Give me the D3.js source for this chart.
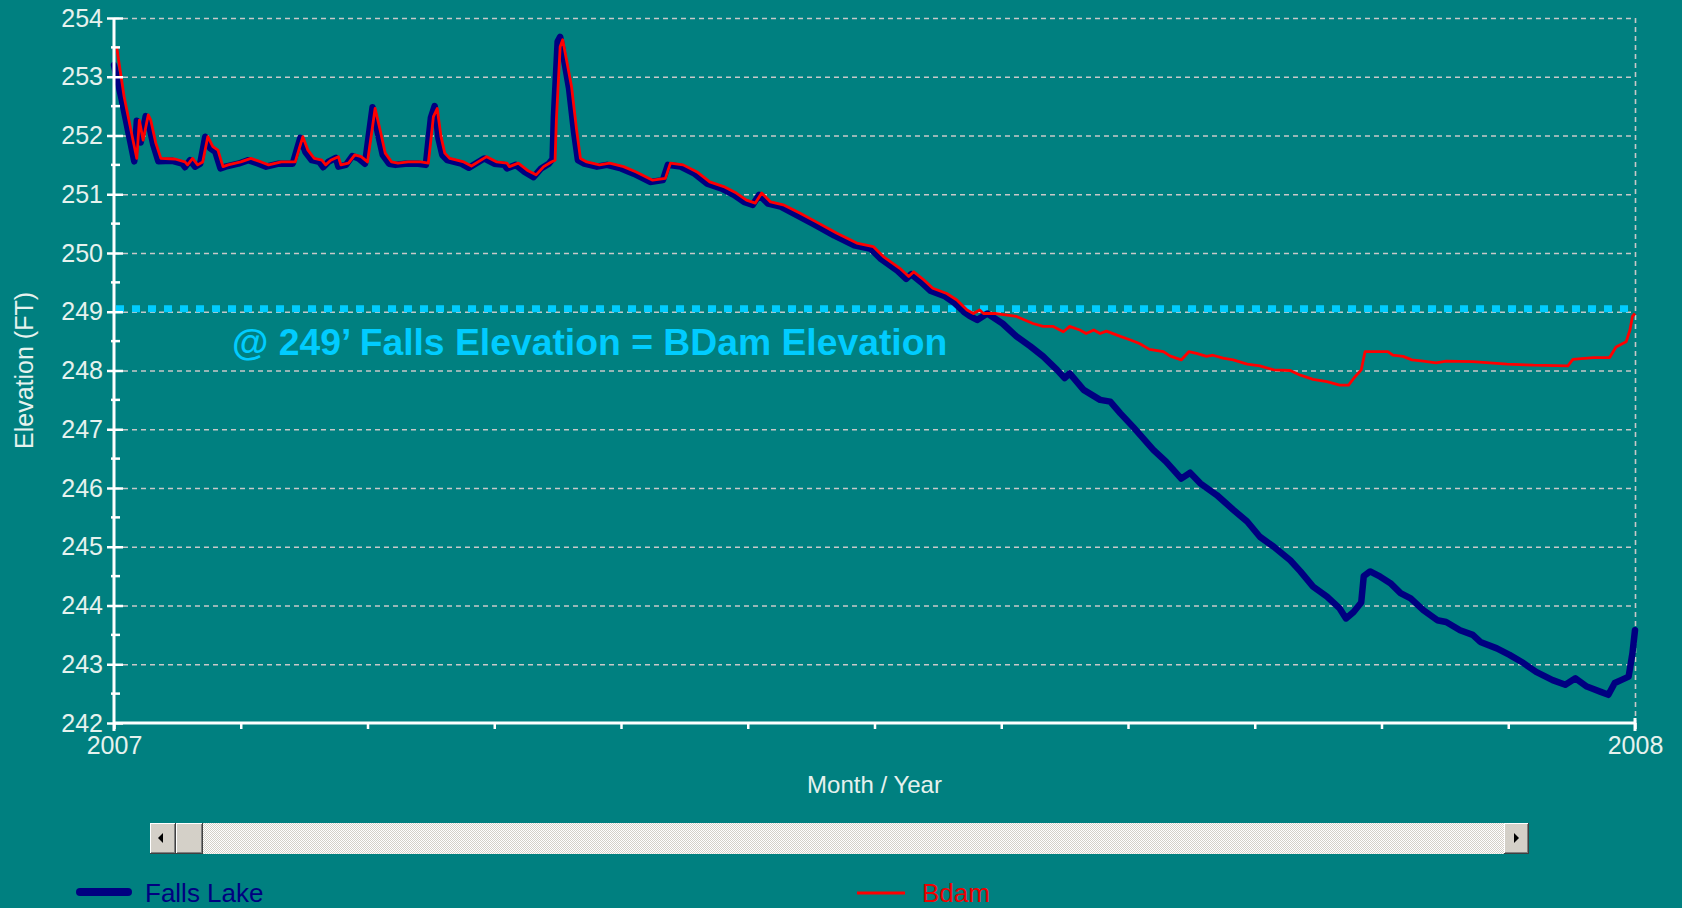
<!DOCTYPE html>
<html>
<head>
<meta charset="utf-8">
<script src="https://cdn.jsdelivr.net/npm/d3@7"></script>
<style>
  html, body { margin: 0; padding: 0; background: #008080; overflow: hidden; }
  svg { display: block; font-family: "Liberation Sans", Arial, sans-serif; }
</style>
</head>
<body>
<div class="container"></div>
<script>
var w = 1682;
var h = 908;

// months since Jan 2007 (0 = 2007, 12 = 2008)
var bdamMonth = [0.02,0.08,0.15,0.18,0.20,0.23,0.27,0.29,0.33,0.37,0.48,0.56,0.58,0.62,0.66,0.70,0.74,0.78,0.82,0.86,0.90,
  1.00,1.08,1.16,1.22,1.32,1.43,1.49,1.53,1.58,1.64,1.67,1.71,1.77,1.79,1.85,1.90,1.95,2.00,2.06,2.10,2.14,2.19,2.24,2.32,
  2.42,2.48,2.52,2.55,2.58,2.61,2.65,2.76,2.82,2.94,3.02,3.10,3.12,3.19,3.26,3.33,3.39,3.45,3.48,3.49,3.52,3.54,3.57,3.61,
  3.65,3.68,3.73,3.83,3.91,4.02,4.12,4.25,4.35,4.39,4.49,4.60,4.70,4.81,4.91,4.99,5.06,5.11,5.18,5.28,5.41,5.54,5.70,5.86,
  5.99,6.07,6.20,6.27,6.31,6.39,6.46,6.57,6.65,6.73,6.78,6.83,6.86,6.96,7.12,7.25,7.33,7.41,7.49,7.54,7.62,7.67,7.73,7.78,
  7.83,7.94,8.02,8.09,8.17,8.28,8.33,8.42,8.48,8.54,8.62,8.67,8.75,8.83,8.94,9.04,9.15,9.28,9.36,9.46,9.57,9.67,9.74,9.79,
  9.84,9.87,10.05,10.09,10.17,10.24,10.33,10.43,10.51,10.72,10.99,11.20,11.47,11.51,11.67,11.80,11.85,11.93,11.96,11.98,12.00];
var bdamElev = [253.52,252.66,251.92,251.61,252.26,251.92,252.35,252.26,251.87,251.61,251.60,251.55,251.50,251.61,251.50,251.55,251.98,251.81,251.75,251.47,251.50,
  251.55,251.61,251.55,251.50,251.55,251.55,251.98,251.75,251.61,251.58,251.50,251.58,251.64,251.50,251.53,251.67,251.64,251.55,252.46,252.09,251.70,251.55,251.53,251.55,
  251.55,251.53,252.32,252.46,251.98,251.70,251.61,251.55,251.48,251.64,251.55,251.53,251.47,251.53,251.41,251.33,251.47,251.55,251.58,252.26,253.51,253.63,253.29,252.83,
  252.09,251.61,251.55,251.50,251.53,251.47,251.38,251.24,251.27,251.53,251.50,251.38,251.21,251.13,251.02,250.90,250.85,251.02,250.87,250.82,250.68,250.53,250.34,250.17,
  250.11,249.94,249.74,249.60,249.68,249.54,249.40,249.31,249.20,249.03,248.97,249.03,248.97,248.97,248.92,248.80,248.75,248.75,248.66,248.75,248.69,248.63,248.69,248.63,
  248.67,248.58,248.52,248.46,248.36,248.32,248.25,248.18,248.32,248.29,248.24,248.26,248.21,248.18,248.11,248.08,248.01,248.00,247.92,247.85,247.81,247.75,247.75,247.89,
  248.01,248.32,248.32,248.26,248.24,248.18,248.16,248.13,248.16,248.15,248.11,248.09,248.08,248.19,248.22,248.22,248.40,248.49,248.69,248.92,248.97];

var fallsMonth = [0.00,0.06,0.13,0.16,0.18,0.21,0.25,0.27,0.31,0.35,0.46,0.54,0.56,0.60,0.64,0.68,0.72,0.76,0.80,0.84,0.88,
  0.98,1.06,1.14,1.20,1.30,1.41,1.47,1.51,1.56,1.62,1.65,1.69,1.75,1.77,1.83,1.88,1.93,1.98,2.04,2.08,2.12,2.17,2.22,2.30,
  2.40,2.46,2.50,2.53,2.56,2.59,2.63,2.74,2.80,2.92,3.00,3.08,3.10,3.17,3.24,3.31,3.37,3.43,3.46,3.47,3.50,3.52,3.55,3.59,
  3.63,3.66,3.71,3.81,3.89,4.00,4.10,4.23,4.33,4.37,4.47,4.58,4.68,4.79,4.89,4.97,5.04,5.09,5.16,5.26,5.39,5.52,5.68,5.84,
  5.97,6.05,6.18,6.25,6.29,6.37,6.44,6.55,6.63,6.71,6.75,6.81,6.89,7.01,7.12,7.23,7.33,7.44,7.50,7.54,7.65,7.78,7.86,7.94,
  8.04,8.20,8.30,8.42,8.49,8.57,8.70,8.83,8.94,9.04,9.15,9.28,9.36,9.46,9.57,9.67,9.72,9.78,9.84,9.86,9.91,9.99,10.07,10.15,
  10.23,10.33,10.44,10.51,10.62,10.72,10.78,10.91,11.01,11.12,11.22,11.35,11.45,11.53,11.62,11.73,11.79,11.84,11.89,11.95,11.98,12.00];
var fallsElev = [253.20,252.62,251.88,251.56,252.25,251.88,252.33,252.24,251.84,251.56,251.57,251.52,251.46,251.58,251.47,251.52,251.98,251.78,251.72,251.44,251.47,
  251.52,251.58,251.52,251.47,251.52,251.52,251.96,251.72,251.58,251.55,251.46,251.55,251.62,251.47,251.50,251.65,251.61,251.52,252.48,252.06,251.67,251.52,251.50,251.52,
  251.52,251.50,252.30,252.50,251.95,251.67,251.58,251.52,251.45,251.61,251.52,251.50,251.44,251.50,251.38,251.29,251.44,251.52,251.60,252.30,253.60,253.68,253.30,252.80,
  252.05,251.58,251.52,251.47,251.50,251.44,251.35,251.21,251.24,251.50,251.47,251.35,251.18,251.10,250.99,250.87,250.82,250.99,250.84,250.79,250.64,250.49,250.30,250.13,
  250.07,249.90,249.70,249.56,249.64,249.50,249.36,249.27,249.15,248.99,248.93,248.86,248.97,248.80,248.58,248.41,248.24,248.01,247.87,247.95,247.67,247.50,247.47,247.27,
  247.04,246.65,246.45,246.16,246.26,246.08,245.88,245.63,245.43,245.17,245.00,244.77,244.58,244.32,244.15,243.95,243.78,243.89,244.05,244.50,244.58,244.49,244.38,244.21,
  244.12,243.92,243.75,243.72,243.58,243.50,243.38,243.27,243.16,243.02,242.87,242.73,242.65,242.76,242.62,242.53,242.48,242.68,242.73,242.79,243.19,243.58];

var yTickValues = [242,243,244,245,246,247,248,249,250,251,252,253,254];
var yMinorValues = [242.5,243.5,244.5,245.5,246.5,247.5,248.5,249.5,250.5,251.5,252.5,253.5];
var xTickValues = [0,1,2,3,4,5,6,7,8,9,10,11,12];
var xTickLabels = ["2007","","","","","","","","","","","","2008"];
var thresholdLevel = 249.05;
var noteText = "@ 249\u2019 Falls Elevation = BDam Elevation";

var x = d3.scaleLinear().domain([0, 12]).range([114, 1635]);
var y = d3.scaleLinear().domain([242, 254]).range([723, 18]);

var svg = d3.select(".container").append("svg").attr("width", w).attr("height", h);

svg.append("rect").attr("width", w).attr("height", h).attr("fill", "#008080");

// dashed grid
svg.append("g").selectAll("line")
  .data(yTickValues.slice(1))
  .enter().append("line")
  .attr("x1", x(0)).attr("x2", x(12))
  .attr("y1", d => y(d) + 0.5).attr("y2", d => y(d) + 0.5)
  .attr("stroke", "#c8c8c8").attr("stroke-width", 1.6)
  .attr("stroke-dasharray", "5,4");

svg.append("line")
  .attr("x1", x(12) + 0.5).attr("x2", x(12) + 0.5)
  .attr("y1", y(254)).attr("y2", y(242))
  .attr("stroke", "#c8c8c8").attr("stroke-width", 1.6)
  .attr("stroke-dasharray", "5,4");

// 249 ft reference line
svg.append("line")
  .attr("x1", x(0) + 2).attr("x2", x(12))
  .attr("y1", y(thresholdLevel)).attr("y2", y(thresholdLevel))
  .attr("stroke", "#00ccff").attr("stroke-width", 7)
  .attr("stroke-dasharray", "8,8");

svg.append("text")
  .attr("x", 232).attr("y", 355)
  .attr("fill", "#00ccff")
  .style("font-size", "37.3px").style("font-weight", "bold")
  .text(noteText);

// series
var line = d3.line().x(d => x(d[0])).y(d => y(d[1]));
var falls = d3.zip(fallsMonth, fallsElev);
var bdam = d3.zip(bdamMonth, bdamElev);

svg.append("path").datum(falls)
  .attr("d", line)
  .attr("fill", "none").attr("stroke", "#000080")
  .attr("stroke-width", 6.5).attr("stroke-linejoin", "round").attr("stroke-linecap", "round");

svg.append("path").datum(bdam)
  .attr("d", line)
  .attr("fill", "none").attr("stroke", "#ff0000")
  .attr("stroke-width", 2.8).attr("stroke-linejoin", "round");

// axes
var yAxis = svg.append("g")
  .attr("transform", "translate(" + x(0) + ",0)")
  .call(d3.axisLeft(y).tickValues(yTickValues).tickSize(7).tickPadding(4).tickFormat(d3.format("d")));
yAxis.select(".domain").remove();
yAxis.selectAll(".tick line").attr("x2", 9).attr("x1", -7).attr("stroke", "#ffffff").attr("stroke-width", 2.5);
yAxis.selectAll(".tick text").attr("fill", "#e6f2ee").style("font-size", "25px").style("font-family", "Liberation Sans, Arial, sans-serif");

svg.append("g").selectAll("line")
  .data(yMinorValues)
  .enter().append("line")
  .attr("x1", x(0) - 3).attr("x2", x(0) + 6)
  .attr("y1", d => y(d)).attr("y2", d => y(d))
  .attr("stroke", "#ffffff").attr("stroke-width", 2.5);

var xAxis = svg.append("g")
  .attr("transform", "translate(0," + y(242) + ")")
  .call(d3.axisBottom(x).tickValues(xTickValues).tickSize(6).tickPadding(7).tickFormat((d, i) => xTickLabels[i]));
xAxis.select(".domain").remove();
xAxis.selectAll(".tick line").attr("stroke", "#ffffff").attr("stroke-width", 2.5);
xAxis.selectAll(".tick text").attr("fill", "#e6f2ee").style("font-size", "25px").style("font-family", "Liberation Sans, Arial, sans-serif");

svg.append("line")
  .attr("x1", x(0)).attr("x2", x(12))
  .attr("y1", y(242)).attr("y2", y(242))
  .attr("stroke", "#ffffff").attr("stroke-width", 3);
svg.append("line")
  .attr("x1", x(0)).attr("x2", x(0))
  .attr("y1", y(254)).attr("y2", y(242) + 8)
  .attr("stroke", "#ffffff").attr("stroke-width", 3);
svg.append("line")
  .attr("x1", x(12)).attr("x2", x(12))
  .attr("y1", y(242) - 5).attr("y2", y(242) + 8)
  .attr("stroke", "#ffffff").attr("stroke-width", 3);

// axis titles
svg.append("text")
  .attr("transform", "translate(33," + ((y(242) + y(254)) / 2) + ") rotate(-90)")
  .attr("text-anchor", "middle")
  .attr("fill", "#e6f2ee").style("font-size", "25px")
  .text("Elevation (FT)");

svg.append("text")
  .attr("x", (x(0) + x(12)) / 2).attr("y", 793)
  .attr("text-anchor", "middle")
  .attr("fill", "#e6f2ee").style("font-size", "24px")
  .text("Month / Year");

// scrollbar
var defs = svg.append("defs");
var pat = defs.append("pattern").attr("id", "dither")
  .attr("width", 2).attr("height", 2).attr("patternUnits", "userSpaceOnUse");
pat.append("rect").attr("width", 2).attr("height", 2).attr("fill", "#ffffff");
pat.append("rect").attr("width", 1).attr("height", 1).attr("fill", "#d4d0c8");
pat.append("rect").attr("x", 1).attr("y", 1).attr("width", 1).attr("height", 1).attr("fill", "#d4d0c8");

var sb = svg.append("g");
sb.append("rect").attr("x", 150).attr("y", 823).attr("width", 1379).attr("height", 31).attr("fill", "url(#dither)");

function button(x0, bw) {
  sb.append("rect").attr("x", x0).attr("y", 823).attr("width", bw).attr("height", 31).attr("fill", "#404040");
  sb.append("rect").attr("x", x0).attr("y", 823).attr("width", bw - 1).attr("height", 30).attr("fill", "#ffffff");
  sb.append("rect").attr("x", x0 + 1).attr("y", 824).attr("width", bw - 2).attr("height", 29).attr("fill", "#808080");
  sb.append("rect").attr("x", x0 + 1).attr("y", 824).attr("width", bw - 3).attr("height", 28).attr("fill", "#d4d0c8");
}
button(150, 26);
button(176, 27);
button(1504, 25);
sb.append("path").attr("d", "M158,838 L163,833 L163,843 Z").attr("fill", "#000000");
sb.append("path").attr("d", "M1514,833 L1519,838 L1514,843 Z").attr("fill", "#000000");

// legend
svg.append("line").attr("x1", 80).attr("x2", 128).attr("y1", 892).attr("y2", 892)
  .attr("stroke", "#000080").attr("stroke-width", 8).attr("stroke-linecap", "round");
svg.append("text").attr("x", 145).attr("y", 902).attr("fill", "#000080")
  .style("font-size", "26px").text("Falls Lake");
svg.append("line").attr("x1", 857).attr("x2", 905).attr("y1", 893).attr("y2", 893)
  .attr("stroke", "#ff0000").attr("stroke-width", 3);
svg.append("text").attr("x", 922).attr("y", 902).attr("fill", "#ee0000")
  .style("font-size", "26px").text("Bdam");
</script>
</body>
</html>
